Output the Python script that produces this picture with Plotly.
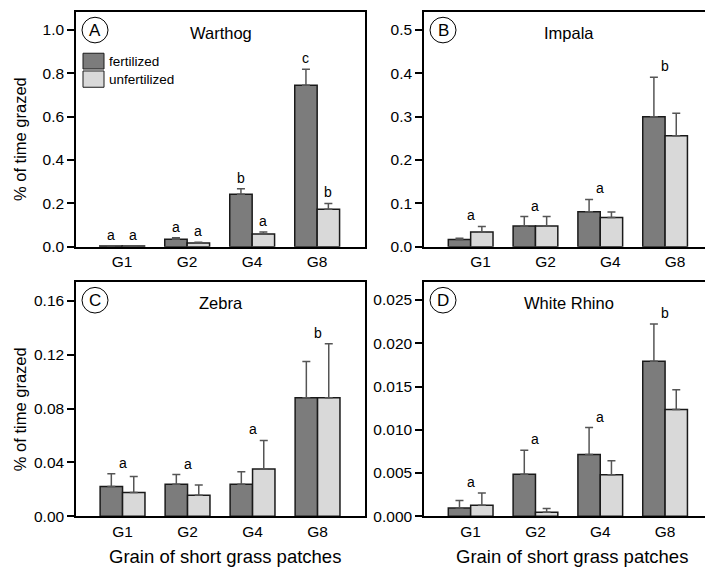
import plotly.graph_objects as go

W, H = 705, 567
FONT = "Liberation Sans, Arial, sans-serif"

groups = ["G1", "G2", "G4", "G8"]
xpos = [0, 1, 2, 3]

# mean % of time grazed and upper end of the error bar (mean + SE)
warthog_fert = [0.003, 0.035, 0.242, 0.745]
warthog_fert_hi = [0.004, 0.041, 0.267, 0.818]
warthog_unfert = [0.003, 0.017, 0.059, 0.173]
warthog_unfert_hi = [0.004, 0.021, 0.068, 0.200]

impala_fert = [0.0167, 0.0477, 0.081, 0.300]
impala_fert_hi = [0.0197, 0.0697, 0.109, 0.391]
impala_unfert = [0.034, 0.0477, 0.0674, 0.256]
impala_unfert_hi = [0.047, 0.0697, 0.080, 0.3076]

zebra_fert = [0.0222, 0.0237, 0.0237, 0.088]
zebra_fert_hi = [0.0315, 0.031, 0.033, 0.1149]
zebra_unfert = [0.0176, 0.0156, 0.0351, 0.088]
zebra_unfert_hi = [0.0295, 0.0232, 0.0563, 0.128]

rhino_fert = [0.00095, 0.00486, 0.00714, 0.01793]
rhino_fert_hi = [0.00182, 0.00764, 0.01026, 0.02223]
rhino_unfert = [0.00129, 0.00046, 0.00479, 0.01235]
rhino_unfert_hi = [0.0027, 0.00091, 0.00642, 0.01463]

# significance letters: Warthog per bar, others per grain group
warthog_letters_fert = ["a", "a", "b", "c"]
warthog_letters_unfert = ["a", "a", "a", "b"]
impala_letters = ["a", "a", "a", "b"]
zebra_letters = ["a", "a", "a", "b"]
rhino_letters = ["a", "a", "a", "b"]

C_FERT = "#7c7c7c"
C_UNFERT = "#d9d9d9"
C_ERR = "#555555"
C_EDGE = "#1a1a1a"

panels = [
    dict(name="Warthog", tag="A", fert=warthog_fert, fhi=warthog_fert_hi,
         unf=warthog_unfert, uhi=warthog_unfert_hi,
         xpx=(76, 365), ypx=(12, 250.3), yr=1.083, xr=(-0.71, 3.736),
         dtick=0.2, fmt=".1f", shift=0, mirror_y=True),
    dict(name="Impala", tag="B", fert=impala_fert, fhi=impala_fert_hi,
         unf=impala_unfert, uhi=impala_unfert_hi,
         xpx=(424, 705), ypx=(12, 250.3), yr=0.5417, xr=(-0.72, 3.616),
         dtick=0.1, fmt=".1f", shift=10, mirror_y=False),
    dict(name="Zebra", tag="C", fert=zebra_fert, fhi=zebra_fert_hi,
         unf=zebra_unfert, uhi=zebra_unfert_hi,
         xpx=(76, 365), ypx=(286, 523.7), yr=0.1739, xr=(-0.716, 3.73),
         dtick=0.04, fmt=".2f", shift=0, mirror_y=True),
    dict(name="White Rhino", tag="D", fert=rhino_fert, fhi=rhino_fert_hi,
         unf=rhino_unfert, uhi=rhino_unfert_hi,
         xpx=(424, 705), ypx=(286, 523.7), yr=0.02709, xr=(-0.72, 3.616),
         dtick=0.005, fmt=".3f", shift=0, mirror_y=False),
]

fig = go.Figure()
annotations = []
shapes = []


def px_x(v):
    return v / W


def px_y(v):
    return 1 - v / H


def paper_text(text, x, y, size, **kw):
    d = dict(text=text, x=px_x(x), y=px_y(y), xref="paper", yref="paper",
             xanchor="center", yanchor="middle", showarrow=False,
             font=dict(family=FONT, size=size, color="black"))
    d.update(kw)
    return d


for i, p in enumerate(panels):
    n = "" if i == 0 else str(i + 1)
    xa, ya = "x" + n, "y" + n
    for vals, hi, col, nm in ((p["fert"], p["fhi"], C_FERT, "fertilized"),
                              (p["unf"], p["uhi"], C_UNFERT, "unfertilized")):
        fig.add_trace(go.Bar(
            x=xpos, y=vals, name=nm, xaxis=xa, yaxis=ya, showlegend=False,
            offsetgroup=nm,
            marker=dict(color=col, line=dict(color=C_EDGE, width=1.5)),
            error_y=dict(type="data", symmetric=False,
                         array=[h - v for h, v in zip(hi, vals)],
                         arrayminus=[0] * len(vals),
                         color=C_ERR, thickness=1.5, width=4),
        ))
    x0, x1 = p["xpx"]
    yt, yb = p["ypx"]
    ax_common = dict(showline=True, linecolor="black", linewidth=1.5,
                     showgrid=False, zeroline=False,
                     tickfont=dict(family=FONT, size=15.5, color="black"))
    fig.layout["xaxis" + n] = dict(
        ax_common, domain=[px_x(x0), px_x(x1)], range=list(p["xr"]),
        anchor=ya, tickvals=xpos, ticktext=groups, ticks="",
        mirror=True, ticklabelshift=p["shift"], fixedrange=True)
    fig.layout["yaxis" + n] = dict(
        ax_common, domain=[px_y(yb), px_y(yt)], range=[0, p["yr"]],
        anchor=xa, dtick=p["dtick"], tick0=0, tickformat=p["fmt"],
        ticks="outside", ticklen=7, tickwidth=1.5, tickcolor="black",
        mirror=p["mirror_y"], fixedrange=True)

    # panel title
    annotations.append(paper_text(p["name"], x0 + 289 / 2, yt + 21, 16.5))
    # circled panel letter
    cx, cy = x0 + 19, yt + 18.5
    shapes.append(dict(type="circle", xref="paper", yref="paper",
                       x0=px_x(cx - 13), x1=px_x(cx + 13),
                       y0=px_y(cy + 13), y1=px_y(cy - 13),
                       line=dict(color="black", width=1)))
    annotations.append(paper_text(p["tag"], cx, cy, 17))

    # significance letters
    if p["tag"] == "A":
        for k in range(4):
            for dx, lt, top in ((-0.1725, warthog_letters_fert[k], p["fhi"][k]),
                                (0.1725, warthog_letters_unfert[k], p["uhi"][k])):
                annotations.append(dict(
                    text=lt, x=xpos[k] + dx, y=top, xref=xa, yref=ya,
                    xanchor="center", yanchor="bottom", yshift=1,
                    showarrow=False,
                    font=dict(family=FONT, size=14, color="black")))
    else:
        letters = {"B": impala_letters, "C": zebra_letters, "D": rhino_letters}[p["tag"]]
        for k in range(4):
            top = max(p["fhi"][k], p["uhi"][k])
            annotations.append(dict(
                text=letters[k], x=xpos[k], y=top, xref=xa, yref=ya,
                xanchor="center", yanchor="bottom", yshift=1,
                showarrow=False,
                font=dict(family=FONT, size=14, color="black")))

# y-axis titles
for yc in (141, 415):
    annotations.append(paper_text("% of time grazed", 20, yc, 16.5,
                                  textangle=-90))
# x-axis titles
for xc in (225, 572):
    annotations.append(paper_text("Grain of short grass patches", xc, 564, 18.5))

# legend swatches in panel A
for (yt_, yb_), col, lab in (((54, 70), C_FERT, "fertilized"),
                             ((72, 88.5), C_UNFERT, "unfertilized")):
    shapes.append(dict(type="rect", xref="paper", yref="paper",
                       x0=px_x(83), x1=px_x(104), y0=px_y(yb_), y1=px_y(yt_),
                       fillcolor=col, line=dict(color=C_EDGE, width=1)))
    annotations.append(paper_text(lab, 107, (yt_ + yb_) / 2, 13.5,
                                  xanchor="left"))

fig.update_layout(
    width=W, height=H, margin=dict(l=0, r=0, t=0, b=0),
    paper_bgcolor="white", plot_bgcolor="white",
    barmode="group", bargap=0.31, bargroupgap=0,
    annotations=annotations, shapes=shapes,
    font=dict(family=FONT, color="black"),
)

fig.write_html("out.html")
